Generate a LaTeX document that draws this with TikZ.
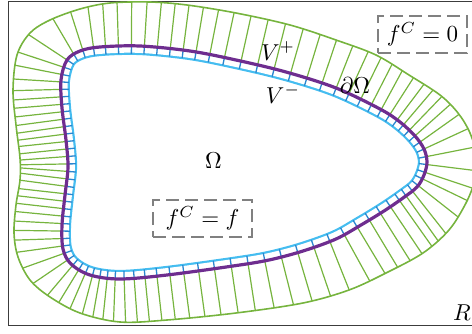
\documentclass[tikz,border=0pt]{standalone}
\usepackage{graphicx}
\usetikzlibrary{decorations.markings}
\definecolor{gr}{HTML}{76B43E}
\definecolor{bl}{HTML}{45BDF0}
\definecolor{bldk}{HTML}{2A86CF}
\definecolor{pu}{HTML}{6E2D8F}
\definecolor{fr}{HTML}{3C3C3C}
\definecolor{bx}{HTML}{808080}
\newcommand\bigtxt[1]{\scalebox{2.3}{#1}}
\def\purplepath{plot[smooth cycle, tension=0.55] coordinates {(427,162) (424,149) (415,136) (400,122) (380,109) (336,88) (286,72) (236,60) (190,51) (140,46) (100,47) (80,51) (67,60) (61,80) (62,108) (66,140) (68,167) (65,195) (62,225) (63,249) (71,264) (90,275) (120,279) (167,275) (233,266) (269,260) (303,251) (336,239) (361,225) (384,211) (403,198) (417,187) (424,175)}}
\def\greenpath{plot[smooth cycle, tension=0.55] coordinates {(478,160) (470,133) (458,113) (440,95) (409,75) (376,55) (336,40) (290,25) (236,13) (187,5) (150,2) (110,3) (80,9) (50,20) (30,33) (17,55) (13,90) (16,125) (20,158) (20,180) (16,205) (14,233) (18,257) (30,280) (50,297) (80,313) (120,322) (167,320) (236,313) (303,303) (349,290) (386,273) (423,253) (449,230) (466,203) (475,180)}}
\tikzset{
  lab/.style={inner sep=0pt},
  dbox/.style={draw=bx, line width=1.6pt, dash pattern=on 13pt off 6pt, inner sep=0pt},
  hatchG/.style={draw=gr, line width=1.2pt},
  hatchB/.style={draw=bldk, line width=1.3pt},
}
\begin{document}
\begin{tikzpicture}[x=1pt, y=-1pt]
\useasboundingbox (0,0) rectangle (472,333);
\clip (0,0) rectangle (472,333);
\draw[fr, line width=1.3pt] (8.5,1.2) rectangle (490,325.6);
\begin{scope}
  \clip \purplepath;
  \draw[bl, line width=18.2pt] \purplepath;
  \draw[white, line width=13.8pt] \purplepath;
\end{scope}
\begin{scope}
  \clip \greenpath;
  \foreach \p in {0,8,16,24,32,40,49,59,70,82,95,109,124,140,157,174,191,208,225,240,254,267,280,293,306,319,332,345,357,368,378,387,395,402.5,410,417.5,425,432.5,440,447.5,455,462.5,470,477.5,485,492.5,500,507.5,515,522.5,530,537.5,545,552.5,560,567.5,575,582.5,590,597.5,605,612.5,620,627.5,635,643,652,662,673,685,698,712,727,743,760,777,794,811,828,845,862,878,893,907,920,932,943,951,959,967,975,982,990,998} {
    \pgfmathsetmacro\q{\p/1006}
    \path[decoration={markings, mark=at position \q with {\draw[hatchG] (0pt,0pt) -- (0pt,-80pt); \draw[hatchB] (0pt,0pt) -- (0pt,8pt);}}, decorate] \purplepath;
  }
\end{scope}
\draw[gr, line width=1.6pt] \greenpath;
\draw[pu, line width=3.2pt] \purplepath;
\node[lab, anchor=base] (vp) at (278,60) {\bigtxt{$V^+$}};
\node[lab, anchor=base] (vm) at (283,103) {\bigtxt{$V^-$}};
\node[lab, anchor=base] (bd) at (355,93) {\bigtxt{$\partial\Omega$}};
\node[lab, anchor=base] (om) at (213.5,168) {\bigtxt{$\Omega$}};
\node[lab, anchor=base] (r) at (462,320) {\bigtxt{$R$}};
\node[dbox, minimum width=89pt, minimum height=37pt] (b1) at (422.5,34.5) {\bigtxt{$f^C=0$}};
\node[dbox, minimum width=99pt, minimum height=37pt] (b2) at (202.5,218.5) {\bigtxt{$f^C=f$}};
\end{tikzpicture}
\end{document}
